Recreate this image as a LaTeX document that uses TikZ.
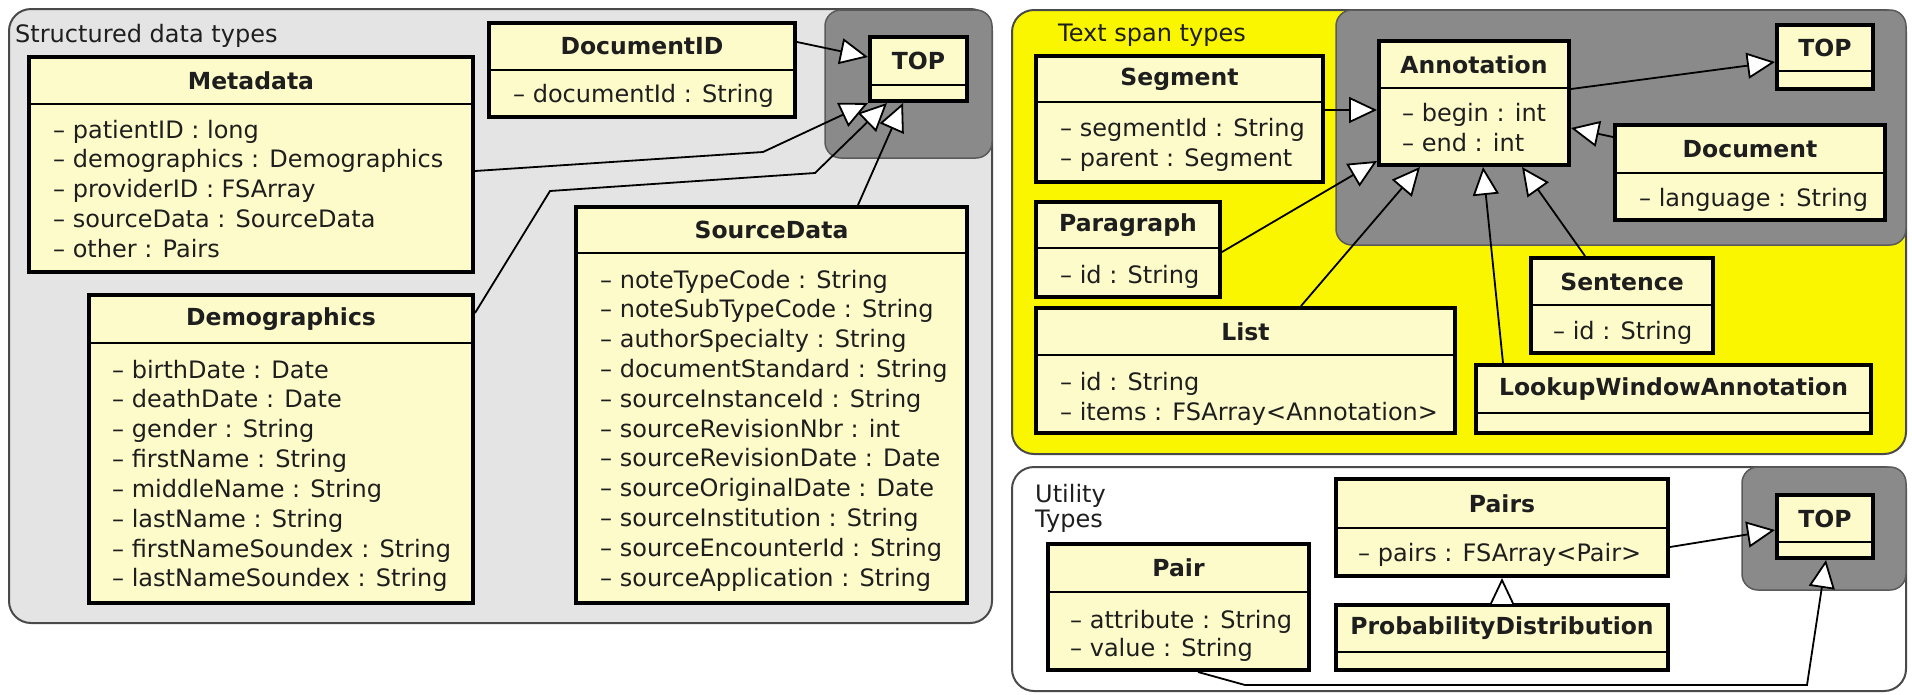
\documentclass[tikz,border=0pt]{standalone}
\usepackage{fontspec}
\setmainfont{DejaVu Sans}
\usetikzlibrary{arrows.meta}
\definecolor{boxfill}{HTML}{FDFBCA}
\definecolor{panelgray}{HTML}{E4E4E4}
\definecolor{panelborder}{HTML}{4A4A4A}
\definecolor{containergray}{HTML}{8A8A8A}
\definecolor{containerborder}{HTML}{5A5A5A}
\definecolor{spanyellow}{HTML}{FAF600}
\definecolor{txt}{HTML}{1E1E1E}
\tikzset{
  classbox/.style={draw=black, line width=4pt, fill=boxfill, inner sep=0pt, rectangle},
  sepline/.style={draw=black, line width=2pt},
  ttl/.style={font=\fontsize{23.5}{28}\selectfont\bfseries, inner sep=0pt, text=txt},
  attr/.style={font=\fontsize{24}{29}\selectfont, inner sep=0pt, anchor=west, text height=17pt, text depth=5pt, text=txt},
  inh/.style={draw=black, line width=1.8pt, -{Triangle[length=28pt,width=26pt,fill=white,line width=1.8pt]}},
  panel/.style={draw=panelborder, line width=2pt, rounded corners=22pt},
  container/.style={fill=containergray, draw=containerborder, line width=1.5pt, rounded corners=16pt},
  lbl/.style={font=\fontsize{24}{29}\selectfont, inner sep=0pt, anchor=base west, text=txt},
}
% name, x1, y1, x2, y2, ysep, title
\newcommand\umlclass[7]{%
  \node[classbox, minimum width={(#4)-(#2)}, minimum height={(#5)-(#3)}] (#1) at ({((#2)+(#4))/2},{((#3)+(#5))/2}) {};
  \draw[sepline] (#2,#6) -- (#4,#6);
  \node[ttl] (#1-title) at ({((#2)+(#4))/2},{((#3)+(#6))/2}) {#7};
}
% name, x, y0, step, list
\newcommand\umlattrs[5]{%
  \foreach \txt [count=\i] in {#5} {\node[attr] (#1-a\i) at (#2,{(#3)+2+(\i-1)*(#4)}) {\txt};}
}
\begin{document}
\begin{tikzpicture}[x=1pt,y=-1pt]
\useasboundingbox (0,0) rectangle (1912,694);

% ---------- panels ----------
\draw[panel, fill=panelgray] (9,9) rectangle (992,623);
\draw[container] (825,10) rectangle (992,158);
\node[lbl] (lblStruct) at (15,42) {Structured data types};

\draw[panel, fill=spanyellow] (1012,10) rectangle (1906,454);
\draw[container] (1336,10) rectangle (1906,245);
\node[lbl] (lblSpan) at (1058,41) {Text span types};

\draw[panel, fill=white] (1012,467) rectangle (1906,691);
\draw[container] (1742,467) rectangle (1906,590);
\node[lbl] (lblUtil1) at (1035,502) {Utility};
\node[lbl] (lblUtil2) at (1035,527) {Types};

% ---------- structured data types ----------
\umlclass{topL}{870}{37}{967}{101}{85}{TOP}
\umlclass{docid}{489}{23}{795}{117}{70}{DocumentID}
\umlattrs{docid}{513}{94}{30}{-- documentId : String}
\umlclass{meta}{29}{57}{473}{272}{104}{Metadata}
\umlattrs{meta}{53}{130}{29.8}{-- patientID : long, -- demographics : Demographics, -- providerID : FSArray, -- sourceData : SourceData, -- other : Pairs}
\umlclass{demo}{89}{295}{473}{603}{343}{Demographics}
\umlattrs{demo}{112}{370}{29.85}{-- birthDate : Date, -- deathDate : Date, -- gender : String, -- firstName : String, -- middleName : String, -- lastName : String, -- firstNameSoundex : String, -- lastNameSoundex : String}
\umlclass{srcd}{576}{207}{967}{603}{253}{SourceData}
\umlattrs{srcd}{600}{280}{29.8}{-- noteTypeCode : String, -- noteSubTypeCode : String, -- authorSpecialty : String, -- documentStandard : String, -- sourceInstanceId : String, -- sourceRevisionNbr : int, -- sourceRevisionDate : Date, -- sourceOriginalDate : Date, -- sourceInstitution : String, -- sourceEncounterId : String, -- sourceApplication : String}

% ---------- text span types ----------
\umlclass{seg}{1036}{56}{1323}{182}{102}{Segment}
\umlattrs{seg}{1060}{128}{30}{-- segmentId : String, -- parent : Segment}
\umlclass{annot}{1379}{41}{1569}{165}{88}{Annotation}
\umlattrs{annot}{1402}{113}{30}{-- begin : int, -- end : int}
\umlclass{topR}{1777}{25}{1873}{89}{71}{TOP}
\umlclass{doc}{1615}{125}{1885}{220}{173}{Document}
\umlattrs{doc}{1639}{198}{30}{-- language : String}
\umlclass{para}{1036}{202}{1220}{297}{248}{Paragraph}
\umlattrs{para}{1060}{275}{30}{-- id : String}
\umlclass{list}{1036}{308}{1455}{433}{355}{List}
\umlattrs{list}{1060}{382}{30}{-- id : String, -- items : FSArray<Annotation>}
\umlclass{sent}{1531}{258}{1713}{353}{305}{Sentence}
\umlattrs{sent}{1553}{331}{30}{-- id : String}
\umlclass{lookup}{1476}{365}{1871}{433}{413}{LookupWindowAnnotation}

% ---------- utility types ----------
\umlclass{pairs}{1336}{479}{1668}{576}{528}{Pairs}
\umlattrs{pairs}{1358}{553}{30}{-- pairs : FSArray<Pair>}
\umlclass{prob}{1336}{605}{1668}{670}{652}{ProbabilityDistribution}
\umlclass{pair}{1048}{544}{1309}{670}{592}{Pair}
\umlattrs{pair}{1070}{620}{28}{-- attribute : String, -- value : String}
\umlclass{topU}{1777}{495}{1873}{558}{542}{TOP}

% ---------- connectors ----------
\draw[inh] (docid.east |- 0,42) -- (topL.west |- 0,57);
\draw[inh] (meta.east |- 0,171) -- (763,152) -- (topL.south west);
\draw[inh] (demo.east |- 0,313) -- (550,191) -- (815,173) -- (topL.south west -| 887,0);
\draw[inh] (srcd.north -| 858,0) -- (topL.south west -| 903,0);

\draw[inh] (seg.east |- 0,110) -- (annot.west |- 0,110);
\draw[inh] (annot.east |- 0,89) -- (topR.west |- 0,62);
\draw[inh] (doc.west |- 0,137) -- (annot.east |- 0,128);
\draw[inh] (para.east |- 0,252) -- (annot.west |- 0,161);
\draw[inh] (list.north -| 1301,0) -- (annot.south -| 1420,0);
\draw[inh] (lookup.north -| 1503,0) -- (annot.south -| 1483,0);
\draw[inh] (sent.north -| 1585,0) -- (annot.south -| 1522,0);

\draw[inh] (pairs.east |- 0,547) -- (topU.west |- 0,530);
\draw[inh] (prob.north) -- (pairs.south);
\draw[inh] (pair.south -| 1198,0) -- (1245,685) -- (1807,685) -- (topU.south -| 1826,0);
\end{tikzpicture}
\end{document}
